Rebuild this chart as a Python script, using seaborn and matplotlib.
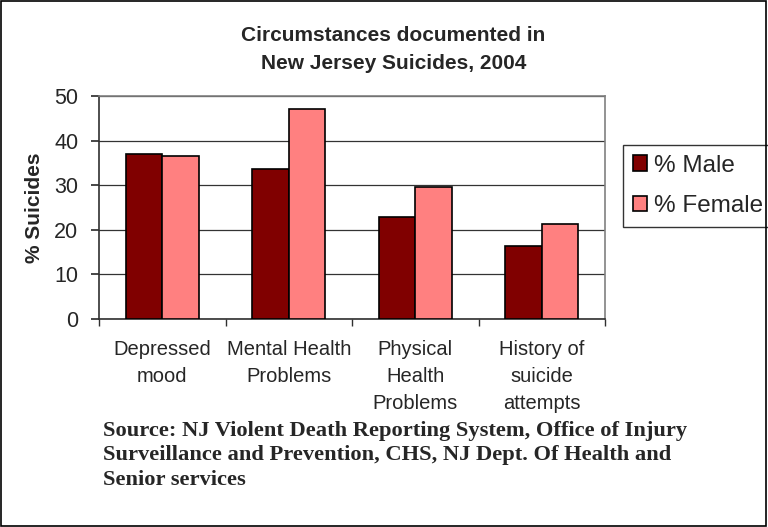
import matplotlib

matplotlib.use("Agg")
import matplotlib.pyplot as plt
import numpy as np
import pandas as pd
import seaborn as sns
from matplotlib.patches import Rectangle

# Data
categories = ["Depressed\nmood", "Mental Health\nProblems",
              "Physical\nHealth\nProblems", "History of\nsuicide\nattempts"]
male_pct = [37.1, 33.7, 22.9, 16.3]
female_pct = [36.6, 47.0, 29.5, 21.2]
series = ["% Male", "% Female"]

df = pd.DataFrame({
    "category": categories * 2,
    "series": [series[0]] * 4 + [series[1]] * 4,
    "pct": male_pct + female_pct,
})

sns.set_theme(style="white")
plt.rcParams["font.family"] = ["Liberation Sans", "DejaVu Sans"]

fig = plt.figure(figsize=(7.68, 5.27), dpi=100)
ax = fig.add_axes([0.1289, 0.3947, 0.6589, 0.4231])

sns.barplot(data=df, x="category", y="pct", hue="series", order=categories,
            hue_order=series, palette=["#800000", "#FF8080"], width=0.58,
            edgecolor="black", linewidth=1.2, saturation=1, ax=ax, zorder=3)

ax.set_ylim(0, 50)
ax.set_xlim(-0.5, 3.5)
ax.set_yticks(np.arange(0, 51, 10))
ax.yaxis.grid(True, color="#333333", linewidth=0.9, zorder=0)
ax.set_axisbelow(True)
for side, s in ax.spines.items():
    s.set_linewidth(1.2)
    s.set_color("#808080" if side in ("top", "right") else "#303030")

ax.tick_params(axis="y", labelsize=15.5, length=6, left=True, color="#303030",
               pad=9)
ax.set_xticks(range(4))
ax.set_xticklabels(categories, fontsize=14.5, linespacing=1.55)
ax.tick_params(axis="x", length=0, pad=15)
ax.set_xticks(np.arange(-0.5, 4, 1), minor=True)
ax.tick_params(axis="x", which="minor", length=5, bottom=True,
               color="#303030")
ax.set_xlabel("")
ax.set_ylabel("% Suicides", fontsize=15, fontweight="bold", labelpad=7)

handles, labels = ax.get_legend_handles_labels()
ax.legend(handles, labels, loc="upper left",
          bbox_to_anchor=(0.811, 0.725), bbox_transform=fig.transFigure,
          fontsize=17.5, frameon=True, fancybox=False, edgecolor="black",
          handlelength=0.6, handleheight=0.6, handletextpad=0.3,
          borderpad=0.4, labelspacing=0.75, borderaxespad=0)
ax.get_legend().get_frame().set_linewidth(1.0)

fig.text(0.512, 0.907, "Circumstances documented in\nNew Jersey Suicides, 2004",
         ha="center", va="center", fontsize=15, fontweight="bold",
         linespacing=1.6)

fig.text(0.134, 0.1366,
         "Source: NJ Violent Death Reporting System, Office of Injury\n"
         "Surveillance and Prevention, CHS, NJ Dept. Of Health and\n"
         "Senior services",
         ha="left", va="center", fontsize=16.2, fontweight="bold",
         family=["Liberation Serif", "DejaVu Serif"], linespacing=1.3)

fig.patches.append(Rectangle((0.001, 0.001), 0.997, 0.997,
                             transform=fig.transFigure, fill=False,
                             edgecolor="black", linewidth=1.2))

fig.savefig("out.png", dpi=100)
